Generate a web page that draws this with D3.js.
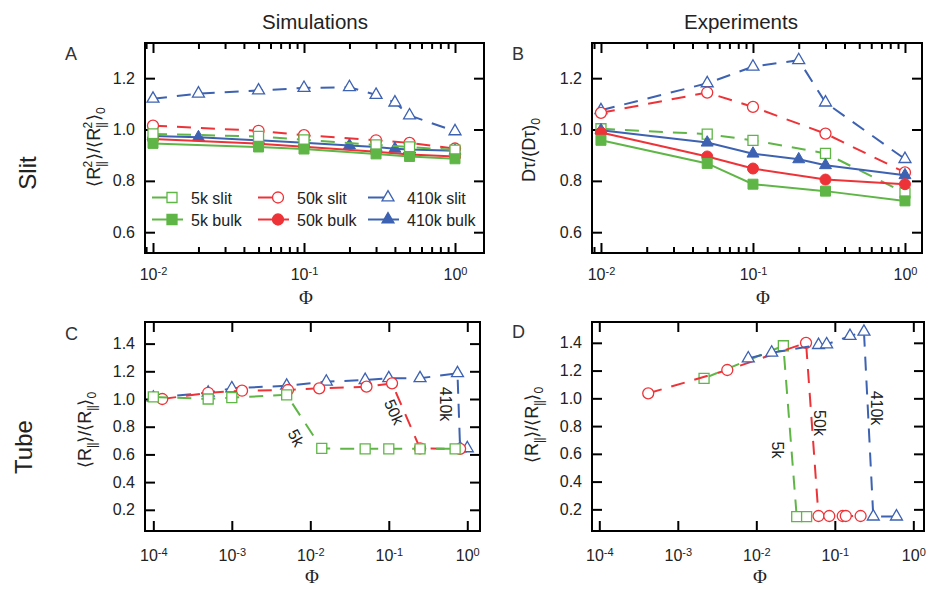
<!DOCTYPE html>
<html><head><meta charset="utf-8">
<script src="https://cdn.jsdelivr.net/npm/d3@7"></script>
<style>body{margin:0;background:#fff}</style>
</head><body>
<svg id="c" width="928" height="589"></svg>
<script>
// ---------- DATA ----------
// Panel A: simulations, slit
const simSlitPhi = [0.01, 0.05, 0.1, 0.3, 0.5, 1.0];
const sim410Phi = [0.01, 0.02, 0.05, 0.1, 0.2, 0.3, 0.4, 0.5, 1.0];
const simSlit5kSlit = [0.983, 0.973, 0.960, 0.940, 0.932, 0.920];
const simSlit5kBulk = [0.946, 0.932, 0.924, 0.905, 0.895, 0.886];
const simSlit50kSlit = [1.015, 0.995, 0.978, 0.958, 0.948, 0.926];
const simSlit50kBulk = [0.963, 0.945, 0.933, 0.913, 0.903, 0.895];
const simSlit410kSlit = [1.12, 1.14, 1.152, 1.162, 1.165, 1.135, 1.105, 1.055, 0.993];
const simSlit410kBulk = [0.975, 0.970, 0.958, 0.948, 0.938, 0.932, 0.925, 0.922, 0.917];
// Panel B: experiments, slit
const expSlitPhi = [0.01, 0.05, 0.1, 0.3, 1.0];
const exp410Phi = [0.01, 0.05, 0.1, 0.2, 0.3, 1.0];
const expSlit5kSlit = [1.003, 0.982, 0.958, 0.907, 0.753];
const expSlit5kBulk = [0.958, 0.868, 0.787, 0.760, 0.722];
const expSlit50kSlit = [1.065, 1.144, 1.088, 0.984, 0.833];
const expSlit50kBulk = [0.988, 0.895, 0.848, 0.805, 0.787];
const expSlit410kSlit = [1.075, 1.180, 1.245, 1.270, 1.105, 0.885];
const expSlit410kBulk = [0.997, 0.949, 0.906, 0.884, 0.861, 0.822];
// Panel C: simulations, tube
const simTube5kPhi = [1e-4, 5e-4, 1e-3, 5e-3, 0.014, 0.05, 0.1, 0.25, 0.7];
const simTube5k = [1.015, 1.0, 1.01, 1.03, 0.643, 0.64, 0.64, 0.64, 0.64];
const simTube50kPhi = [1.3e-4, 5e-4, 1.35e-3, 5.2e-3, 0.013, 0.052, 0.11, 0.25, 0.81];
const simTube50k = [1.0, 1.045, 1.06, 1.065, 1.077, 1.089, 1.113, 0.643, 0.64];
const simTube410kPhi = [1e-4, 5e-4, 1e-3, 5e-3, 0.016, 0.05, 0.1, 0.25, 0.75, 0.81, 1.0];
const simTube410k = [1.01, 1.046, 1.077, 1.096, 1.125, 1.137, 1.15, 1.15, 1.186, 0.644, 0.644];
// Panel D: experiments, tube
const expTube5kPhi = [2.16e-3, 0.0221, 0.0327, 0.0437];
const expTube5k = [1.144, 1.379, 0.148, 0.148];
const expTube50kPhi = [4.2e-4, 4.27e-3, 0.043, 0.062, 0.085, 0.126, 0.138, 0.213];
const expTube50k = [1.036, 1.204, 1.40, 0.152, 0.152, 0.152, 0.152, 0.152];
const expTube410kPhi = [7.9e-3, 0.0157, 0.062, 0.0786, 0.156, 0.235, 0.309, 0.61];
const expTube410k = [1.288, 1.329, 1.384, 1.389, 1.449, 1.48, 0.148, 0.148];
// tick labels
const slitYTicks = [0.6, 0.8, 1.0, 1.2];
const tubeYTicks = [0.2, 0.4, 0.6, 0.8, 1.0, 1.2, 1.4];
const slitXTicks = [1e-2, 1e-1, 1];
const tubeXTicks = [1e-4, 1e-3, 1e-2, 1e-1, 1];
const legendLabels = ["5k slit", "5k bulk", "50k slit", "50k bulk", "410k slit", "410k bulk"];

// ---------- STYLE ----------
const FONT = "'Liberation Sans', Arial, Helvetica, sans-serif";
const GREEN = "#5fb647", RED = "#ee3338", BLUE = "#3d62b2";
const DASH = "14,10";
const svg = d3.select("#c");
const zip = (xs, ys) => xs.map((v, i) => [v, ys[i]]);

const shapes = {sq: [d3.symbolSquare, 100], ci: [d3.symbolCircle, 95], tr: [d3.symbolTriangle, 62]};

function drawSeries(g, x, y, s) {
  const pts = zip(s.phi, s.val);
  const line = d3.line().x(d => x(d[0])).y(d => y(d[1]));
  g.append("path").datum(pts).attr("d", line).attr("fill", "none")
    .attr("stroke", s.color).attr("stroke-width", 2)
    .attr("stroke-dasharray", s.dashed ? DASH : null);
  const [type, size] = shapes[s.shape];
  g.selectAll(null).data(pts).enter().append("path")
    .attr("d", d3.symbol().type(type).size(size))
    .attr("transform", d => `translate(${x(d[0])},${y(d[1])})`)
    .attr("fill", s.filled ? s.color : "#fff")
    .attr("stroke", s.color).attr("stroke-width", s.filled ? 1 : 1.3);
}

function minorTicks(dom) {
  const out = [];
  const lo = Math.floor(Math.log10(dom[0])), hi = Math.ceil(Math.log10(dom[1]));
  for (let e = lo; e <= hi; e++) for (let k = 2; k <= 9; k++) {
    const v = k * Math.pow(10, e);
    if (v > dom[0] && v < dom[1]) out.push(v);
  }
  return out;
}

function panel(o) {
  const g = svg.append("g");
  const x = d3.scaleLog().domain(o.xd).range([o.l, o.r]);
  const y = d3.scaleLinear().domain(o.yd).range([o.b, o.t]);
  const style = sel => { sel.select(".domain").remove();
    sel.selectAll(".tick line").attr("stroke-width", 2).attr("stroke", "#000");
    sel.attr("font-family", FONT).attr("font-size", 16); };
  // bottom axis
  const gb = g.append("g").attr("transform", `translate(0,${o.b})`)
    .call(d3.axisBottom(x).tickValues(o.xt).tickSizeInner(-10).tickSizeOuter(0)
      .tickPadding(o.xpad).tickFormat(() => "")).call(style);
  gb.selectAll(".tick text").attr("fill", "#222").each(function(d) {
    const t = d3.select(this);
    t.append("tspan").text("10");
    t.append("tspan").attr("dy", "-0.45em").attr("font-size", 11).text(Math.round(Math.log10(d)));
  });
  g.append("g").attr("transform", `translate(0,${o.t})`)
    .call(d3.axisTop(x).tickValues(o.xt).tickSizeInner(-10).tickSizeOuter(0).tickFormat(() => "")).call(style);
  if (o.minor) {
    const mt = minorTicks(o.xd);
    g.append("g").attr("transform", `translate(0,${o.b})`)
      .call(d3.axisBottom(x).tickValues(mt).tickSizeInner(-6).tickSizeOuter(0).tickFormat(() => "")).call(style);
    g.append("g").attr("transform", `translate(0,${o.t})`)
      .call(d3.axisTop(x).tickValues(mt).tickSizeInner(-6).tickSizeOuter(0).tickFormat(() => "")).call(style);
  }
  const gl = g.append("g").attr("transform", `translate(${o.l},0)`)
    .call(d3.axisLeft(y).tickValues(o.yt).tickSizeInner(-10).tickSizeOuter(0).tickPadding(10)
      .tickFormat(d3.format(".1f"))).call(style);
  gl.selectAll(".tick text").attr("fill", "#222");
  g.append("g").attr("transform", `translate(${o.r},0)`)
    .call(d3.axisRight(y).tickValues(o.yt).tickSizeInner(-10).tickSizeOuter(0).tickFormat(() => "")).call(style);
  g.append("rect").attr("x", o.l).attr("y", o.t).attr("width", o.r - o.l).attr("height", o.b - o.t)
    .attr("fill", "none").attr("stroke", "#000").attr("stroke-width", 2);
  const gd = g.append("g");
  o.series.forEach(s => drawSeries(gd, x, y, s));
  // x label
  g.append("text").attr("x", o.phiX).attr("y", o.phiY).attr("text-anchor", "middle")
    .attr("font-family", "'Liberation Serif', 'Times New Roman', serif").attr("font-size", 19)
    .attr("fill", "#222").text("Φ");
  // panel letter
  g.append("text").attr("x", o.letterX).attr("y", o.letterY).attr("font-family", FONT)
    .attr("font-size", 18).attr("fill", "#333").text(o.letter);
  // y label
  const yl = g.append("text").attr("transform", `translate(${o.ylx},${o.yly}) rotate(-90)`)
    .attr("text-anchor", "middle").attr("font-family", FONT).attr("font-size", 18).attr("fill", "#222");
  o.ylab.forEach(p => yl.append("tspan").attr("font-size", p[1]).attr("dx", p[2]).attr("dy", p[3])
    .attr("letter-spacing", p[0] === "||" ? -0.5 : null).text(p[0]));
  return {g, x, y};
}

const sq = (phi, val, color, filled, dashed) => ({phi, val, color, shape: "sq", filled, dashed});
const ci = (phi, val, color, filled, dashed) => ({phi, val, color, shape: "ci", filled, dashed});
const tr = (phi, val, color, filled, dashed) => ({phi, val, color, shape: "tr", filled, dashed});

const labR2 = [["⟨R",18,0,0],["||",12,0,5],["2",12,-6,-13],["⟩/⟨R",18,1,8],["||",12,0,5],["2",12,-6,-13],["⟩",18,1,8],["0",12,0,5]];
const labR = [["⟨R",18,0,0],["||",12,0,5],["⟩/⟨R",18,0,-5],["||",12,0,5],["⟩",18,0,-5],["0",12,0,5]];
const labD = [["Dτ/(Dτ)",18,0,0],["0",12,0,5]];

const A = panel({l:145, r:484, t:43, b:253, xd:[Math.pow(10,-2.053), Math.pow(10,0.192)], yd:[0.519,1.337],
  xt: slitXTicks, yt: slitYTicks, minor: true, xpad: 15.5, phiX: 306, phiY: 304,
  letter: "A", letterX: 65, letterY: 60, ylab: labR2, ylx: 100, yly: 147,
  series: [
    tr(sim410Phi, simSlit410kSlit, BLUE, false, true),
    ci(simSlitPhi, simSlit50kSlit, RED, false, true),
    tr(sim410Phi, simSlit410kBulk, BLUE, true, false),
    ci(simSlitPhi, simSlit50kBulk, RED, true, false),
    sq(simSlitPhi, simSlit5kSlit, GREEN, false, true),
    sq(simSlitPhi, simSlit5kBulk, GREEN, true, false)
  ]});

const B = panel({l:592, r:922, t:43, b:253, xd:[Math.pow(10,-2.059), Math.pow(10,0.112)], yd:[0.519,1.337],
  xt: slitXTicks, yt: slitYTicks, minor: true, xpad: 15.5, phiX: 763, phiY: 304,
  letter: "B", letterX: 512, letterY: 60, ylab: labD, ylx: 535, yly: 150,
  series: [
    tr(exp410Phi, expSlit410kSlit, BLUE, false, true),
    ci(expSlitPhi, expSlit50kSlit, RED, false, true),
    sq(expSlitPhi, expSlit5kSlit, GREEN, false, true),
    tr(exp410Phi, expSlit410kBulk, BLUE, true, false),
    ci(expSlitPhi, expSlit50kBulk, RED, true, false),
    sq(expSlitPhi, expSlit5kBulk, GREEN, true, false)
  ]});

const C = panel({l:145, r:480, t:322, b:531, xd:[Math.pow(10,-4.106), Math.pow(10,0.162)], yd:[0.047,1.556],
  xt: tubeXTicks, yt: tubeYTicks, minor: false, xpad: 18.5, phiX: 312, phiY: 583,
  letter: "C", letterX: 65, letterY: 340, ylab: labR, ylx: 91, yly: 430,
  series: [
    tr(simTube410kPhi, simTube410k, BLUE, false, true),
    ci(simTube50kPhi, simTube50k, RED, false, true),
    sq(simTube5kPhi, simTube5k, GREEN, false, true)
  ]});

const D = panel({l:592, r:924, t:322, b:531, xd:[Math.pow(10,-4.093), Math.pow(10,0.136)], yd:[0.044,1.55],
  xt: tubeXTicks, yt: tubeYTicks, minor: false, xpad: 18.5, phiX: 760, phiY: 583,
  letter: "D", letterX: 512, letterY: 338, ylab: labR, ylx: 538, yly: 425,
  series: [
    sq(expTube5kPhi, expTube5k, GREEN, false, true),
    ci(expTube50kPhi, expTube50k, RED, false, true),
    tr(expTube410kPhi, expTube410k, BLUE, false, true)
  ]});

// curve labels
function curveLabel(x, y, ang, txt) {
  svg.append("text").attr("transform", `translate(${x},${y}) rotate(${ang})`)
    .attr("text-anchor", "middle").attr("dominant-baseline", "central")
    .attr("font-family", FONT).attr("font-size", 16).attr("fill", "#222").text(txt);
}
curveLabel(296, 438, 62, "5k");
curveLabel(394, 412, 66, "50k");
curveLabel(445, 404, 90, "410k");
curveLabel(777, 450, 90, "5k");
curveLabel(819, 423, 90, "50k");
curveLabel(876, 408, 90, "410k");

// legend (panel A)
const legendItems = [
  {label: legendLabels[0], color: GREEN, shape: "sq", filled: false},
  {label: legendLabels[1], color: GREEN, shape: "sq", filled: true},
  {label: legendLabels[2], color: RED, shape: "ci", filled: false},
  {label: legendLabels[3], color: RED, shape: "ci", filled: true},
  {label: legendLabels[4], color: BLUE, shape: "tr", filled: false},
  {label: legendLabels[5], color: BLUE, shape: "tr", filled: true}
];
const colX = [152, 258, 368], rowY = [197.5, 219.5];
legendItems.forEach((it, i) => {
  const cx = colX[Math.floor(i / 2)], cy = rowY[i % 2];
  const mx = cx + 20;
  svg.append("line").attr("x1", cx).attr("x2", it.filled ? cx + 31 : mx).attr("y1", cy).attr("y2", cy)
    .attr("stroke", it.color).attr("stroke-width", 2);
  const [type, size] = shapes[it.shape];
  svg.append("path").attr("d", d3.symbol().type(type).size(size)).attr("transform", `translate(${mx},${cy})`)
    .attr("fill", it.filled ? it.color : "#fff").attr("stroke", it.color).attr("stroke-width", 1.3);
  svg.append("text").attr("x", cx + 39).attr("y", cy + 6).attr("font-family", FONT).attr("font-size", 16)
    .attr("fill", "#222").text(it.label);
});

// titles
svg.append("text").attr("x", 315).attr("y", 29).attr("text-anchor", "middle").attr("font-family", FONT)
  .attr("font-size", 20.5).attr("fill", "#222").text("Simulations");
svg.append("text").attr("x", 741).attr("y", 29).attr("text-anchor", "middle").attr("font-family", FONT)
  .attr("font-size", 20.5).attr("fill", "#222").text("Experiments");
svg.append("text").attr("transform", "translate(36,173) rotate(-90)").attr("text-anchor", "middle")
  .attr("font-family", FONT).attr("font-size", 24).attr("fill", "#222").text("Slit");
svg.append("text").attr("transform", "translate(32,447) rotate(-90)").attr("text-anchor", "middle")
  .attr("font-family", FONT).attr("font-size", 24).attr("fill", "#222").text("Tube");
</script>
</body></html>
